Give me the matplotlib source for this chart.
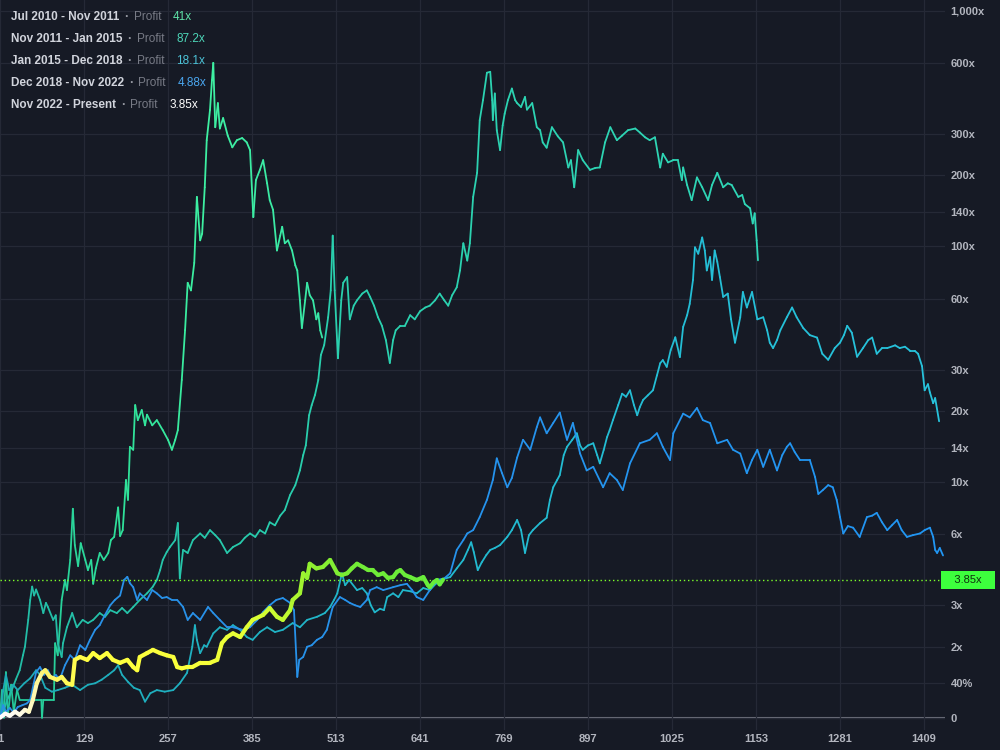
import numpy as np
import matplotlib
matplotlib.use("Agg")
import matplotlib.pyplot as plt
from matplotlib.collections import LineCollection
from matplotlib.colors import LinearSegmentedColormap

plt.rcParams['font.family'] = ['Liberation Sans', 'DejaVu Sans']

# ---------------- data (day since cycle low, multiple of cycle-low price) ----------------
cycle1 = [(1,1.0),(4,1.31),(7,1.0),(10,1.56),(13,1.02),(18,1.38),(22,1.06),(27,1.31),(31,1.19),
          (64,1.19),(65,1.0),(67,1.19),(83,1.19),(85,2.07),(89,1.84),(95,3.16),(100,3.84),(103,3.48),
          (108,4.67),(112,7.7),(115,5.4),(120,4.4),(124,5.5),(131,4.67),(135,4.23),(140,4.67),(143,3.7),
          (147,4.3),(153,5.0),(159,4.67),(166,5.0),(170,5.67),(175,5.85),(181,7.8),(184,5.9),(188,6.25),
          (193,10.2),(196,8.4),(199,14.1),(204,13.7),(207,21.2),(211,18.3),(217,20.2),(222,17.4),(225,19.3),
          (233,17.4),(240,18.3),(249,16.6),(257,15.1),(263,13.7),(268,15.1),(272,16.6),(278,27.1),(283,44.1),
          (287,70),(292,65),(297,85),(301,162),(306,106),(309,113),(313,178),(316,282),(321,379),(324,507),
          (326,600),(329,320),(333,405),(336,316),(341,350),(348,295),(355,263),(362,282),(370,288),(377,276),
          (382,256),(387,133),(391,191),(397,211),(402,232),(408,185),(412,157),(417,143),(423,96),(428,111),
          (431,121),(435,103),(440,106),(446,96),(451,83),(454,79),(458,59),(461,45),(466,59),(469,70),
          (473,62),(478,59),(483,49),(486,52),(489,44),(492,41)]

cycle2 = [(1,1.0),(7,1.08),(12,1.19),(19,1.31),(25,1.45),(31,1.59),(36,1.84),(39,2.0),(44,2.6),(47,3.16),
          (50,3.6),(53,3.3),(56,3.5),(62,3.16),(67,2.78),(71,3.07),(74,2.95),(82,2.6),(86,2.72),(89,2.07),
          (95,1.81),(97,2.07),(103,2.42),(111,2.78),(118,2.42),(127,2.6),(135,2.52),(143,2.6),(153,2.78),
          (161,2.68),(169,2.86),(179,2.78),(187,2.92),(195,2.78),(204,2.95),(214,3.16),(225,3.37),(234,3.6),
          (240,3.84),(245,4.23),(249,4.67),(255,5.04),(260,5.3),(268,5.67),(272,6.7),(275,3.9),(280,5.15),
          (287,5.0),(295,5.67),(306,6.05),(313,5.8),(321,6.25),(329,5.95),(336,5.67),(347,5.0),(356,5.3),
          (367,5.5),(374,5.8),(382,6.05),(390,5.85),(397,6.25),(405,6.05),(412,6.75),(420,6.55),(428,7.2),
          (435,7.6),(443,8.8),(451,9.7),(458,11.2),(463,13.0),(467,14.3),(472,19.2),(476,21.2),(481,23.4),
          (486,27.1),(490,34.6),(495,38.1),(501,50),(505,65),(508,111),(511,65),(516,33.5),(521,59),(524,70),
          (530,74),(534,49),(540,56),(545,59),(553,63),(560,65),(565,61),(571,56),(577,50),(583,46),(589,40),
          (595,32),(600,40),(604,44),(611,46),(618,46),(626,51),(633,49),(641,53),(649,55),(656,56),(664,59),
          (671,63),(678,59),(684,56),(690,62),(697,67),(702,79),(707,103),(713,87),(717,103),(722,162),
          (728,205),(732,343),(737,417),(743,545),(748,550),(751,417),(752,343),(755,445),(758,311),(763,256),
          (767,326),(770,365),(775,417),(781,467),(786,417),(789,405),(795,390),(801,430),(804,380),(812,405),
          (819,320),(824,311),(828,276),(834,262),(842,320),(851,293),(859,276),(867,216),(871,232),(876,178),
          (882,256),(889,232),(900,211),(908,215),(915,216),(923,276),(931,320),(941,282),(949,295),(958,311),
          (969,316),(976,304),(984,290),(991,282),(999,290),(1007,216),(1011,247),(1019,227),(1027,232),
          (1034,232),(1040,191),(1042,216),(1048,182),(1055,157),(1063,196),(1071,178),(1080,157),(1086,182),
          (1094,205),(1103,178),(1110,185),(1116,182),(1126,162),(1132,165),(1136,151),(1144,145),(1148,125),
          (1151,138),(1154,106),(1156,87.2)]

cycle3 = [(1,1.0),(6,1.31),(10,1.52),(15,1.31),(21,1.38),(28,1.31),(38,1.40),(47,1.47),(56,1.59),(62,1.52),
          (70,1.34),(80,1.29),(89,1.31),(100,1.34),(111,1.38),(123,1.31),(135,1.38),(146,1.40),(156,1.45),
          (166,1.52),(175,1.59),(181,1.67),(187,1.52),(196,1.42),(205,1.34),(214,1.31),(222,1.17),(230,1.27),
          (240,1.31),(252,1.29),(265,1.31),(275,1.40),(286,1.55),(294,2.0),(298,2.47),(301,2.14),(306,1.88),
          (312,2.03),(316,2.0),(326,2.28),(336,2.42),(347,2.36),(356,2.47),(367,2.36),(377,2.2),(386,2.14),
          (397,2.31),(408,2.42),(420,2.31),(432,2.36),(447,2.52),(458,2.42),(469,2.6),(484,2.68),(496,2.78),
          (504,2.95),(510,3.16),(515,3.37),(522,4.1),(527,3.65),(533,3.84),(545,3.48),(553,3.55),(560,3.37),
          (566,3.0),(572,2.8),(580,2.9),(586,2.86),(591,3.25),(600,3.37),(608,3.25),(615,3.48),(626,3.44),
          (636,3.37),(646,3.55),(656,3.48),(665,3.7),(671,3.84),(687,3.95),(697,4.3),(707,4.67),(714,5.15),
          (719,5.55),(723,5.04),(729,4.23),(735,4.56),(742,4.9),(748,5.15),(755,5.25),(763,5.4),(774,5.85),
          (781,6.25),(789,6.9),(795,6.25),(801,5.0),(807,5.95),(813,6.25),(824,6.7),(834,7.05),(839,8.4),
          (844,9.5),(850,10.2),(854,10.7),(860,13.0),(865,14.1),(873,15.1),(880,16.1),(885,14.3),(889,13.7),
          (897,14.3),(905,14.6),(911,13.0),(915,12.0),(921,13.7),(926,15.5),(930,16.6),(935,18.3),(943,21.2),
          (949,23.7),(955,23.0),(961,24.5),(967,21.2),(972,19.2),(976,20.8),(981,22.3),(988,23.3),(996,24.5),
          (1002,28.3),(1007,31.9),(1011,32.9),(1017,30.8),(1023,36.3),(1030,41.1),(1037,33.9),(1042,45.5),
          (1048,51),(1052,57),(1057,72),(1060,99),(1065,93),(1071,109),(1075,96),(1078,79),(1083,90),(1086,72),
          (1090,96),(1094,86),(1098,74),(1103,61),(1110,63),(1115,49),(1121,39),(1129,50),(1133,64),(1139,55),
          (1147,64),(1155,49),(1164,50),(1170,44),(1174,39),(1179,37),(1185,40),(1190,44),(1200,50),(1208,55),
          (1215,50),(1225,45),(1235,42),(1246,41),(1254,35),(1263,33),(1273,37),(1281,39),(1287,42),(1292,46),
          (1299,43),(1307,34),(1316,37),(1324,40),(1330,41),(1337,35),(1345,37),(1353,37),(1365,38),(1372,37),
          (1380,37.5),(1388,36),(1395,36),(1400,35),(1406,31),(1410,24.5),(1415,26),(1418,24),(1423,21.6),
          (1426,22.7),(1432,18.1)]

cycle4 = [(1,1.0),(6,1.13),(10,1.06),(16,1.1),(22,1.05),(28,1.11),(35,1.13),(42,1.15),(47,1.19),(51,1.34),
          (56,1.56),(62,1.64),(68,1.52),(74,1.59),(80,1.47),(86,1.52),(92,1.45),(100,1.67),(108,1.84),
          (115,1.76),(123,2.03),(131,1.94),(138,2.14),(146,2.36),(153,2.47),(161,2.73),(169,3.0),(176,3.16),
          (184,3.3),(190,3.84),(195,3.96),(199,3.72),(204,3.58),(210,3.16),(214,3.37),(225,3.16),(233,3.48),
          (240,3.37),(248,3.22),(255,3.25),(263,3.16),(271,3.16),(280,2.95),(287,2.6),(295,2.78),(306,2.6),
          (318,2.95),(326,2.78),(336,2.6),(347,2.42),(356,2.42),(371,2.36),(382,2.42),(393,2.6),(402,2.81),
          (412,3.0),(422,3.16),(432,3.22),(443,3.07),(449,2.86),(454,1.49),(457,1.76),(463,1.81),(469,2.0),
          (476,2.03),(484,2.14),(492,2.2),(499,2.36),(508,2.95),(519,3.25),(527,3.16),(534,3.07),(542,3.0),
          (550,2.95),(560,3.16),(565,3.48),(575,3.58),(585,3.48),(600,3.58),(611,3.65),(621,3.7),(629,3.48),
          (636,3.25),(646,3.16),(656,3.48),(667,3.84),(678,3.9),(687,4.1),(697,5.15),(707,5.67),(713,6.05),
          (722,6.25),(732,7.1),(743,8.4),(752,10.2),(758,12.6),(766,10.9),(774,9.5),(781,10.4),(789,12.7),
          (798,15.1),(809,13.7),(819,17.1),(824,18.8),(834,16.1),(844,17.8),(854,19.7),(865,15.1),(874,17.8),
          (885,13.2),(895,11.2),(905,11.6),(920,9.5),(930,10.9),(941,10.2),(950,9.25),(961,12.0),(976,14.6),
          (991,15.1),(1002,16.1),(1011,14.1),(1022,12.4),(1027,16.1),(1042,19.5),(1052,18.8),(1063,20.6),
          (1072,18.3),(1083,17.8),(1094,14.6),(1109,15.1),(1118,13.7),(1129,13.2),(1139,10.9),(1147,12.4),
          (1155,13.7),(1164,11.6),(1174,13.7),(1185,11.2),(1193,13.0),(1200,14.1),(1205,14.6),(1212,13.4),
          (1220,12.4),(1235,12.4),(1243,10.5),(1248,8.9),(1255,9.25),(1263,9.7),(1270,9.5),(1276,8.4),
          (1281,7.1),(1286,6.05),(1293,6.5),(1301,6.4),(1311,5.85),(1322,7.1),(1330,7.2),(1337,7.4),(1345,6.75),
          (1353,6.25),(1360,6.55),(1368,6.9),(1375,6.25),(1383,5.85),(1392,5.95),(1403,6.05),(1410,6.25),
          (1418,6.4),(1423,5.85),(1426,5.15),(1429,5.0),(1433,5.25),(1438,4.88)]

cycle5 = [(1,1.0),(9,1.04),(16,1.02),(24,1.06),(31,1.03),(39,1.08),(45,1.06),(51,1.19),(57,1.4),(65,1.55),
          (70,1.59),(77,1.49),(88,1.45),(95,1.49),(103,1.4),(111,1.38),(115,1.76),(123,1.81),(134,1.76),
          (143,1.88),(153,1.79),(164,1.88),(173,1.76),(184,1.71),(195,1.76),(204,1.64),(210,1.59),(214,1.81),
          (225,1.88),(234,1.94),(245,1.88),(255,1.84),(265,1.81),(271,1.64),(278,1.62),(286,1.64),(294,1.64),
          (306,1.71),(321,1.71),(332,1.76),(339,2.07),(347,2.2),(356,2.28),(367,2.2),(377,2.42),(386,2.6),
          (402,2.73),(412,2.92),(423,2.68),(432,2.6),(443,2.86),(447,3.16),(458,3.37),(463,4.1),(469,3.92),
          (473,4.5),(483,4.3),(493,4.36),(504,4.67),(515,4.1),(522,4.03),(530,4.1),(537,4.3),(545,4.5),
          (554,4.36),(562,4.23),(569,4.23),(577,4.03),(585,4.1),(592,3.92),(600,3.95),(606,4.16),(611,4.23),
          (618,4.03),(626,3.95),(636,3.84),(646,3.95),(653,3.65),(656,3.58),(662,3.76),(667,3.84),(671,3.68),
          (676,3.85)]

periods = ["Jul 2010 - Nov 2011", "Nov 2011 - Jan 2015", "Jan 2015 - Dec 2018",
           "Dec 2018 - Nov 2022", "Nov 2022 - Present"]
profits = ["41x", "87.2x", "18.1x", "4.88x", "3.85x"]
current_multiple = 3.85

y_ticks = [1, 1.4, 2, 3, 6, 10, 14, 20, 30, 60, 100, 140, 200, 300, 600, 1000]
y_labels = ["0", "40%", "2x", "3x", "6x", "10x", "14x", "20x", "30x", "60x", "100x",
            "140x", "200x", "300x", "600x", "1,000x"]
x_ticks = [1, 129, 257, 385, 513, 641, 769, 897, 1025, 1153, 1281, 1409]

# ---------------- style ----------------
BG = "#161a25"
GRID = "#252936"
TXT = "#b2b5be"
profit_colors = ["#5fe3a8", "#4dd6b8", "#4cc3d8", "#4aa6ef", "#ffffff"]
cycle_styles = [
    (cycle1, [(0, "#22c49a"), (0.4, "#30e29a"), (0.65, "#3ef0a2"), (1, "#38e6a6")], 1.3),
    (cycle2, [(0, "#22bca6"), (0.45, "#2ad0ae"), (1, "#2fd6b6")], 1.3),
    (cycle3, [(0, "#1eaab6"), (0.5, "#22bad0"), (1, "#27c3dc")], 1.3),
    (cycle4, [(0, "#2a90e6"), (1, "#2196f3")], 1.3),
    (cycle5, [(0, "#ffffff"), (0.05, "#fffbe0"), (0.1, "#fff56a"), (0.2, "#ffff40"),
              (0.45, "#f8ff3a"), (0.56, "#e0ff34"), (0.64, "#c0fa30"), (0.7, "#90f030"),
              (0.8, "#72ec36"), (1, "#66ee3c")], 3.0),
]

fig = plt.figure(figsize=(10, 7.5), dpi=100)
fig.patch.set_facecolor(BG)
ax = fig.add_axes([0, 20 / 750, 945 / 1000, 730 / 750])
ax.set_facecolor(BG)
ax.set_yscale("log")
ax.set_xlim(1, 1441)
ax.set_ylim(0.887, 1109)

for s in ax.spines.values():
    s.set_visible(False)

ax.yaxis.tick_right()
ax.set_yticks(y_ticks)
ax.set_yticklabels(y_labels)
ax.yaxis.set_minor_locator(matplotlib.ticker.NullLocator())
ax.set_xticks(x_ticks)
ax.set_xticklabels([str(v) for v in x_ticks])
ax.tick_params(axis="y", length=0, pad=4, labelsize=8, labelcolor=TXT)
ax.tick_params(axis="x", length=0, pad=3, labelsize=8, labelcolor=TXT)
for lab in ax.get_yticklabels() + ax.get_xticklabels():
    lab.set_fontweight("bold")

ax.grid(True, which="major", color=GRID, lw=0.9, zorder=0)
ax.axhline(1.0, color="#6e717c", lw=1.5, zorder=1)
ax.axhline(current_multiple, color="#7cff2a", lw=1.0, ls=(0, (1, 2)), zorder=6)


def draw_cycle(points, stops, lw, z):
    d = np.array([p[0] for p in points], float)
    m = np.array([p[1] for p in points], float)
    pts = np.column_stack([d, m]).reshape(-1, 1, 2)
    segs = np.concatenate([pts[:-1], pts[1:]], axis=1)
    cmap = LinearSegmentedColormap.from_list("c", stops)
    t = (d[:-1] - d[0]) / (d[-1] - d[0])
    lc = LineCollection(segs, colors=cmap(t), linewidths=lw, capstyle="round",
                        joinstyle="round", zorder=z)
    ax.add_collection(lc)


for i, (pts, stops, lw) in enumerate(cycle_styles):
    draw_cycle(pts, stops, lw, 3 + i)

# current value label on the price scale
ax.annotate("   %.2fx   " % current_multiple, xy=(1.0, current_multiple),
            xycoords=("axes fraction", "data"), xytext=(0, 0), textcoords="offset points",
            ha="left", va="center", fontsize=8, color="#10300f",
            bbox=dict(boxstyle="square,pad=0.35", fc="#3dff3d", ec="none"),
            annotation_clip=False, zorder=10)

# legend block (top-left)
fig.canvas.draw()
r = fig.canvas.get_renderer()
for i, (per, prof, col) in enumerate(zip(periods, profits, profit_colors)):
    yy = 1 - (17 + 22 * i) / 750
    t1 = fig.text(11 / 1000, yy, per, color="#d1d4dc", fontsize=8.5, fontweight="bold",
                  va="center", ha="left")
    x = t1.get_window_extent(r).x1 + 5
    t2 = fig.text(x / 1000, yy, "·", color="#9598a1", fontsize=9, fontweight="bold",
                  va="center", ha="left")
    x = t2.get_window_extent(r).x1 + 5
    t3 = fig.text(x / 1000, yy, "Profit", color="#787b86", fontsize=8.5,
                  va="center", ha="left")
    x = t3.get_window_extent(r).x1 + 12
    fig.text(x / 1000, yy, prof, color=col, fontsize=8.5, va="center", ha="left")

fig.savefig("out.png", dpi=100, facecolor=BG)
